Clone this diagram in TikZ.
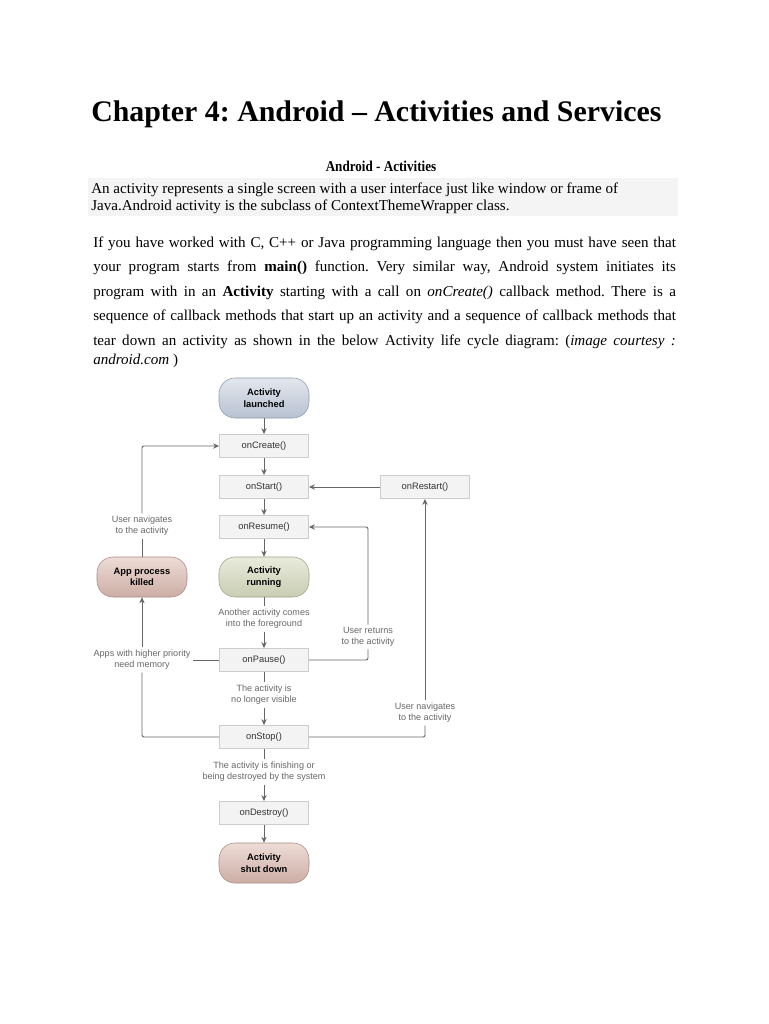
\documentclass[tikz,border=0pt]{standalone}
\usepackage{fontspec}
\setmainfont{Liberation Serif}
\newfontfamily\diafont{Liberation Sans}
\newfontfamily\headfont[FakeStretch=0.87]{Liberation Serif}
\usetikzlibrary{arrows.meta}
\frenchspacing

\definecolor{band}{HTML}{F4F4F4}
\definecolor{boxfill}{HTML}{F3F3F3}
\definecolor{boxline}{HTML}{CDCDCD}
\definecolor{wire}{HTML}{666666}
\definecolor{notegray}{HTML}{686868}
\definecolor{blueA}{HTML}{E3E7EE}
\definecolor{blueB}{HTML}{B7C1D0}
\definecolor{blueE}{HTML}{8D99AD}
\definecolor{greenA}{HTML}{E8EBDB}
\definecolor{greenB}{HTML}{C8CDB2}
\definecolor{greenE}{HTML}{9DA389}
\definecolor{roseA}{HTML}{EDDCD6}
\definecolor{roseB}{HTML}{CCAEA5}
\definecolor{roseE}{HTML}{A78B83}

\tikzset{
  callback/.style={draw=boxline, fill=boxfill, minimum width=67pt, minimum height=17.5pt,
    inner sep=1pt, text=black!80, font=\diafont\fontsize{7}{8}\selectfont},
  phase/.style={draw=#1E, top color=#1A, bottom color=#1B, rounded corners=12pt,
    minimum width=67.5pt, minimum height=30pt, align=center, inner sep=1pt,
    font=\diafont\bfseries\fontsize{7}{8.5}\selectfont},
  note/.style={text=notegray, align=center, inner sep=2pt,
    font=\diafont\fontsize{6.8}{8.2}\selectfont},
  link/.style={draw=wire, line width=0.65pt, rounded corners=1.5pt},
  flow/.style={link, -{Stealth[length=4.5pt,width=4pt]}},
  textline/.style={anchor=base west, inner sep=0pt, font=\fontsize{11.3}{13}\selectfont}
}

\begin{document}
\begin{tikzpicture}[x=0.75pt,y=-0.75pt]
\useasboundingbox (0,0) rectangle (768,1024);
\fill[white] (0,0) rectangle (768,1024);

% page text
\node[anchor=base west, inner sep=0pt, font=\bfseries\fontsize{22.4}{26}\selectfont] (title) at (91,122)
  {Chapter 4: Android – Activities and Services};
\node[anchor=base, inner sep=0pt, font=\headfont\bfseries\fontsize{11.3}{13}\selectfont] (subhead) at (381,171)
  {Android - Activities};
\fill[band] (88,178) rectangle (678,216);
\node[textline] (def1) at (91,193) {An activity represents a single screen with a user interface just like window or frame of};
\node[textline] (def2) at (91,210) {Java.Android activity is the subclass of ContextThemeWrapper class.};

\node[textline] (par1) at (93,247) {\makebox[437pt][s]{If you have worked with C, C++ or Java programming language then you must have seen that}};
\node[textline] (par2) at (93,271.5) {\makebox[437pt][s]{your program starts from \textbf{main()} function. Very similar way, Android system initiates its}};
\node[textline] (par3) at (93,296) {\makebox[437pt][s]{program with in an \textbf{Activity} starting with a call on \textit{onCreate()} callback method. There is a}};
\node[textline] (par4) at (93,320.5) {\makebox[437pt][s]{sequence of callback methods that start up an activity and a sequence of callback methods that}};
\node[textline] (par5) at (93,345) {\makebox[437pt][s]{tear down an activity as shown in the below Activity life cycle diagram: (\textit{image courtesy :}}};
\node[textline] (par6) at (93,364) {\textit{android.com} )};

% life cycle states
\node[phase=blue] (launched) at (264,398) {Activity\\launched};
\node[callback] (create) at (264,446) {onCreate()};
\node[callback] (start) at (264,487) {onStart()};
\node[callback] (restart) at (425,487) {onRestart()};
\node[callback] (resume) at (264,527) {onResume()};
\node[phase=green] (running) at (264,577) {Activity\\running};
\node[phase=rose] (killed) at (142,577) {App process\\killed};
\node[note] (fgtxt) at (264,619) {Another activity comes\\into the foreground};
\node[callback] (pause) at (264,660) {onPause()};
\node[note] (memtxt) at (142,660) {Apps with higher priority\\need memory};
\node[note] (rettxt) at (368,637) {User returns\\to the activity};
\node[note] (vistxt) at (264,695) {The activity is\\no longer visible};
\node[callback] (stop) at (264,737) {onStop()};
\node[note] (navright) at (425,713) {User navigates\\to the activity};
\node[note] (navleft) at (142,526) {User navigates\\to the activity};
\node[note] (fintxt) at (264,772) {The activity is finishing or\\being destroyed by the system};
\node[callback] (destroy) at (264,813) {onDestroy()};
\node[phase=rose] (shutdown) at (264,863) {Activity\\shut down};

% main chain
\draw[flow] (launched) -- (create);
\draw[flow] (create) -- (start);
\draw[flow] (start) -- (resume);
\draw[flow] (resume) -- (running);
\draw[link] (running) -- (fgtxt);
\draw[flow] (fgtxt) -- (pause);
\draw[link] (pause) -- (vistxt);
\draw[flow] (vistxt) -- (stop);
\draw[link] (stop) -- (fintxt);
\draw[flow] (fintxt) -- (destroy);
\draw[flow] (destroy) -- (shutdown);

% loops back
\draw[flow] (restart) -- (start);
\draw[link] (pause) -- (memtxt);
\draw[link] (stop) -| (memtxt);
\draw[flow] (memtxt) -- (killed);
\draw[link] (killed) -- (navleft);
\draw[flow] (navleft) |- (create);
\draw[link] (pause) -| (rettxt);
\draw[flow] (rettxt) |- (resume);
\draw[link] (stop) -| (navright);
\draw[flow] (navright) -- (restart);
\end{tikzpicture}
\end{document}
